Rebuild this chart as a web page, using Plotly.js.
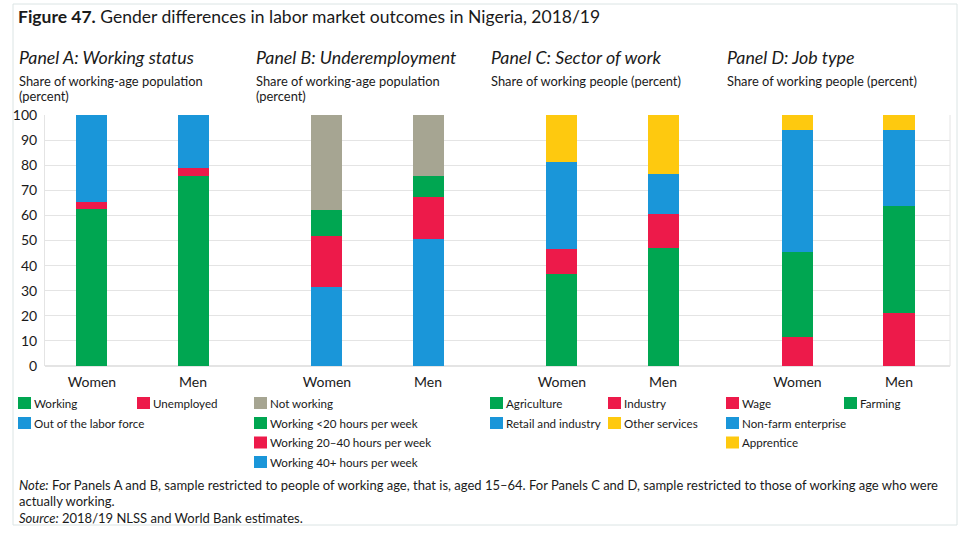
<!DOCTYPE html>
<html><head><meta charset="utf-8">
<script src="https://cdn.plot.ly/plotly-3.0.1.min.js"></script>
<style>html,body{margin:0;padding:0;background:#fff}</style>
</head><body><div id="chart" style="width:975px;height:538px"></div>
<script>
// ---------------- DATA ----------------
const genders = ['Women', 'Men'];
const yTicks = [0, 10, 20, 30, 40, 50, 60, 70, 80, 90, 100];

// Panel A: Working status (share of working-age population, %)
const aWorking    = [62.4, 75.7];
const aUnemployed = [3.1, 3.2];
const aOutOfLF    = [34.5, 21.1];

// Panel B: Underemployment (share of working-age population, %)
const b40plus     = [31.5, 50.7];
const b20to40     = [20.2, 16.8];
const bUnder20    = [10.6, 8.2];
const bNotWorking = [37.7, 24.3];

// Panel C: Sector of work (share of working people, %)
const cAgriculture = [36.8, 47.1];
const cIndustry    = [9.8, 13.5];
const cRetail      = [34.5, 15.8];
const cOther       = [18.9, 23.6];

// Panel D: Job type (share of working people, %)
const dWage       = [11.4, 21.1];
const dFarming    = [33.9, 42.6];
const dNonFarm    = [48.6, 30.2];
const dApprentice = [6.1, 6.1];

const panelTitles = ['Panel A:', 'Panel B:', 'Panel C:', 'Panel D:'];
const panelNames  = ['Working status', 'Underemployment', 'Sector of work', 'Job type'];
const panelSubs   = [
  ['Share of working-age population', '(percent)'],
  ['Share of working-age population', '(percent)'],
  ['Share of working people (percent)'],
  ['Share of working people (percent)']
];
const figTitleBold = 'Figure 47.';
const figTitle = 'Gender differences in labor market outcomes in Nigeria, 2018/19';
const noteLines = [
  '<i>Note:</i> For Panels A and B, sample restricted to people of working age, that is, aged 15–64. For Panels C and D, sample restricted to those of working age who were',
  'actually working.',
  '<i>Source:</i> 2018/19 NLSS and World Bank estimates.'
];

// ---------------- STYLE ----------------
const GREEN = '#00A651', RED = '#ED1A4A', BLUE = '#1A96D9', GREY = '#A6A592', YELLOW = '#FEC90F';
const TXT = '#1a1a1a';
const FONT = 'Lato, "Open Sans", sans-serif';

// series: [name, values, color, axis]
const series = [
  ['Working', aWorking, GREEN, 'x'],
  ['Unemployed', aUnemployed, RED, 'x'],
  ['Out of the labor force', aOutOfLF, BLUE, 'x'],
  ['Working 40+ hours per week', b40plus, BLUE, 'x2'],
  ['Working 20–40 hours per week', b20to40, RED, 'x2'],
  ['Working &lt;20 hours per week', bUnder20, GREEN, 'x2'],
  ['Not working', bNotWorking, GREY, 'x2'],
  ['Agriculture', cAgriculture, GREEN, 'x3'],
  ['Industry', cIndustry, RED, 'x3'],
  ['Retail and industry', cRetail, BLUE, 'x3'],
  ['Other services', cOther, YELLOW, 'x3'],
  ['Wage', dWage, RED, 'x4'],
  ['Farming', dFarming, GREEN, 'x4'],
  ['Non-farm enterprise', dNonFarm, BLUE, 'x4'],
  ['Apprentice', dApprentice, YELLOW, 'x4']
];
// legend slot for each series (same order): [left px, row index]
const legendSlots = [
  [18, 0], [137, 0], [18, 1],
  [254, 3], [254, 2], [254, 1], [254, 0],
  [490, 0], [608, 0], [490, 1], [608, 1],
  [726, 0], [844, 0], [726, 1], [726, 2]
];
const legendRowY = [403, 423, 442.5, 462];

// plot geometry (px)
const W = 975, H = 538, L = 45, R = 950, T = 115, B = 366;
const px = x => (x - L) / (R - L);
const py = y => (B - y) / (B - T);

const traces = series.map(s => ({
  type: 'bar', name: s[0], x: genders, y: s[1], xaxis: s[3], yaxis: 'y',
  marker: { color: s[2], line: { width: 0 } }, showlegend: false, hoverinfo: 'name+y'
}));

const shapes = [];
const annotations = [];

// frame
shapes.push({ type: 'rect', xref: 'paper', yref: 'paper', x0: px(13), x1: px(957), y0: py(525), y1: py(4),
  line: { color: '#dbe4e4', width: 1 }, layer: 'below' });
// right border of plot
shapes.push({ type: 'line', xref: 'paper', yref: 'paper', x0: 1, x1: 1, y0: 0, y1: 1,
  line: { color: '#e4e4e4', width: 1 } });

// legend
series.forEach((s, i) => {
  const [lx, row] = legendSlots[i];
  const cy = legendRowY[row];
  shapes.push({ type: 'rect', xref: 'paper', yref: 'paper', x0: px(lx), x1: px(lx + 13), y0: py(cy + 6), y1: py(cy - 6),
    fillcolor: s[2], line: { width: 0 } });
  annotations.push({ xref: 'paper', yref: 'paper', x: px(lx + 14), y: py(cy), xanchor: 'left', yanchor: 'middle',
    text: s[0], showarrow: false, font: { family: FONT, size: 11.6, color: TXT } });
});

// panel titles
const panelX = [18, 255, 490, 726];
panelX.forEach((x0, i) => {
  annotations.push({ xref: 'paper', yref: 'paper', x: px(x0 - 1), y: py(57), xanchor: 'left', yanchor: 'middle',
    text: '<i>' + panelTitles[i] + ' ' + panelNames[i] + '</i>', showarrow: false,
    font: { family: FONT, size: 17.8, color: TXT } });
  panelSubs[i].forEach((line, j) => {
    annotations.push({ xref: 'paper', yref: 'paper', x: px(x0 - 1), y: py(81 + j * 15), xanchor: 'left', yanchor: 'middle',
      text: line, showarrow: false, font: { family: FONT, size: 12.9, color: TXT } });
  });
});

// notes
noteLines.forEach((line, j) => {
  annotations.push({ xref: 'paper', yref: 'paper', x: px(17), y: py(484.5 + j * 16.5), xanchor: 'left', yanchor: 'middle',
    text: line, showarrow: false, font: { family: FONT, size: 13, color: TXT } });
});

const dA = (R - L);
const dom = [[0, 235 / dA], [235 / dA, 470 / dA], [470 / dA, 705 / dA], [705 / dA, 1]];
const xBase = {
  type: 'category', showgrid: false, showline: false, zeroline: false, ticks: '',
  tickfont: { family: FONT, size: 14, color: TXT }, ticklabelstandoff: 6, anchor: 'y', fixedrange: true
};
const layout = {
  width: W, height: H,
  margin: { l: L, r: W - R, t: T, b: H - B, pad: 0 },
  paper_bgcolor: '#fff', plot_bgcolor: '#fff',
  barmode: 'stack', bargap: 0.693,
  showlegend: false,
  font: { family: FONT, color: TXT },
  title: {
    text: '<b>' + figTitleBold + '</b> ' + figTitle,
    xref: 'container', yref: 'container', x: 18 / W, xanchor: 'left', y: 1 - 17 / H, yanchor: 'middle',
    font: { family: FONT, size: 17.5, color: TXT }
  },
  xaxis:  Object.assign({}, xBase, { domain: dom[0], range: [-0.465, 1.861] }),
  xaxis2: Object.assign({}, xBase, { domain: dom[1], range: [-0.465, 1.861] }),
  xaxis3: Object.assign({}, xBase, { domain: dom[2], range: [-0.465, 1.861] }),
  xaxis4: Object.assign({}, xBase, { domain: dom[3], range: [-0.468, 1.502] }),
  yaxis: {
    range: [0, 100], tickvals: yTicks, ticktext: yTicks.map(String), showgrid: true, gridcolor: '#e4e4e4', gridwidth: 1.2,
    zeroline: true, zerolinecolor: '#e4e4e4', zerolinewidth: 1.2, showline: true, linecolor: '#e4e4e4', linewidth: 1,
    ticks: '', ticklabelstandoff: 4, tickfont: { family: FONT, size: 14, color: TXT }, fixedrange: true
  },
  shapes: shapes,
  annotations: annotations
};
Plotly.newPlot('chart', traces, layout, { displayModeBar: false, staticPlot: true });
</script>
</body></html>
